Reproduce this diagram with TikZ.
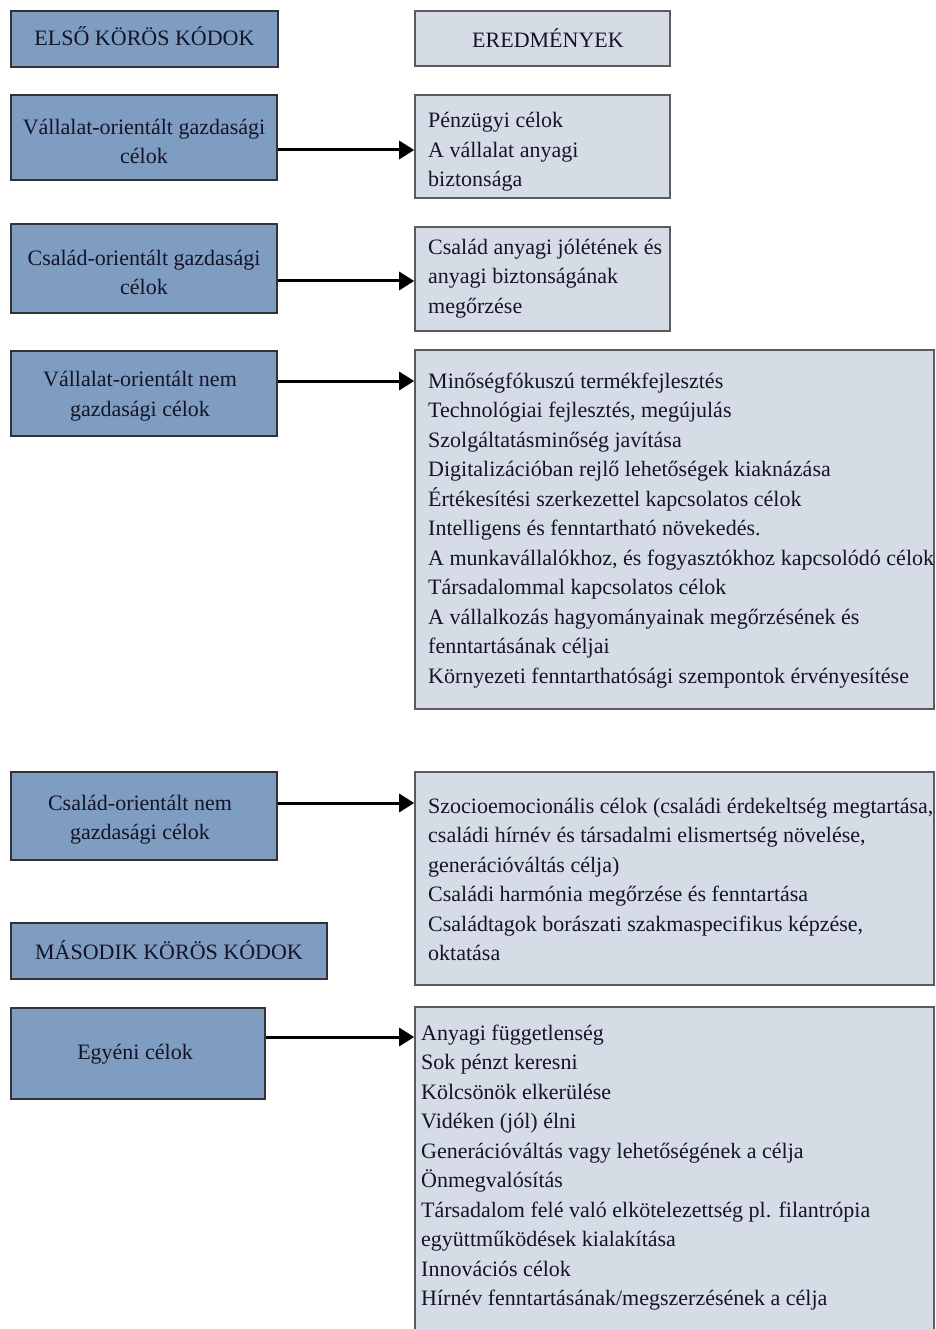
\documentclass[tikz,border=0pt]{standalone}
\usepackage{fontspec}
\setmainfont{Liberation Serif}
\usetikzlibrary{arrows.meta}
\definecolor{lblue}{RGB}{127,157,193}
\definecolor{lgray}{RGB}{214,220,229}
\definecolor{bord}{RGB}{50,50,55}
\definecolor{txt}{RGB}{20,20,40}
\tikzset{
  x=1pt, y=-1pt,
  lbox/.style={draw=bord, line width=1.6pt, fill=lblue, inner sep=0pt},
  ltext/.style={align=center, inner sep=0pt, text=txt, font=\fontsize{22}{29.5}\selectfont},
  rbox/.style={draw=bord!80, line width=1.6pt, fill=lgray, inner sep=0pt},
  rtext/.style={anchor=west, align=left, inner sep=0pt, text=txt, font=\fontsize{22}{29.5}\selectfont},
  arr/.style={line width=3pt, -{Triangle[length=15pt, width=18pt]}, shorten >=0pt},
}
\begin{document}
\begin{tikzpicture}
\useasboundingbox (0,0) rectangle (935,1329);
% left column
\node[lbox, minimum width=267, minimum height=56] (h1) at (144.5,39) {};
\node[ltext] (h1t) at (144.5,36) {ELSŐ KÖRÖS KÓDOK};
\node[lbox, minimum width=266, minimum height=85] (a1) at (144,137.5) {};
\node[ltext] (a1t) at (144,141.5) {Vállalat-orientált gazdasági\\célok};
\node[lbox, minimum width=266, minimum height=89] (a2) at (144,268.5) {};
\node[ltext] (a2t) at (144,272.5) {Család-orientált gazdasági\\célok};
\node[lbox, minimum width=266, minimum height=85] (a3) at (144,393.5) {};
\node[ltext] (a3t) at (140,396) {Vállalat-orientált nem\\gazdasági célok};
\node[lbox, minimum width=266, minimum height=88] (a4) at (144,816) {};
\node[ltext] (a4t) at (140,819.5) {Család-orientált nem\\gazdasági célok};
\node[lbox, minimum width=316, minimum height=56] (h2) at (169,951) {};
\node[ltext] (h2t) at (169,950) {MÁSODIK KÖRÖS KÓDOK};
\node[lbox, minimum width=254, minimum height=91] (a5) at (138,1053.5) {};
\node[ltext] (a5t) at (135,1054) {Egyéni célok};
% right column
\node[rbox, minimum width=255, minimum height=55] (h3) at (542.5,38.5) {};
\node[ltext] (h3t) at (548,38.5) {EREDMÉNYEK};
\node[rbox, minimum width=255, minimum height=103] (r1) at (542.5,146.5) {};
\node[rtext] (t1) at (428,152) {Pénzügyi célok\\A vállalat anyagi\\biztonsága};
\node[rbox, minimum width=255, minimum height=104] (r2) at (542.5,279) {};
\node[rtext] (t2) at (428,278.5) {Család anyagi jólétének és\\anyagi biztonságának\\megőrzése};
\node[rbox, minimum width=519, minimum height=359] (r3) at (674.5,529.5) {};
\node[rtext] (t3) at (428,530.5) {Minőségfókuszú termékfejlesztés\\Technológiai fejlesztés, megújulás\\Szolgáltatásminőség javítása\\Digitalizációban rejlő lehetőségek kiaknázása\\Értékesítési szerkezettel kapcsolatos célok\\Intelligens és fenntartható növekedés.\\A munkavállalókhoz, és fogyasztókhoz kapcsolódó célok\\Társadalommal kapcsolatos célok\\A vállalkozás hagyományainak megőrzésének és\\fenntartásának céljai\\Környezeti fenntarthatósági szempontok érvényesítése};
\node[rbox, minimum width=519, minimum height=213] (r4) at (674.5,878.5) {};
\node[rtext] (t4) at (428,879.5) {Szocioemocionális célok (családi érdekeltség megtartása,\\családi hírnév és társadalmi elismertség növelése,\\generációváltás célja)\\Családi harmónia megőrzése és fenntartása\\Családtagok borászati szakmaspecifikus képzése,\\oktatása};
\node[rbox, minimum width=519, minimum height=340] (r5) at (674.5,1177) {};
\node[rtext] (t5) at (421,1167.5) {Anyagi függetlenség\\Sok pénzt keresni\\Kölcsönök elkerülése\\Vidéken (jól) élni\\Generációváltás vagy lehetőségének a célja\\Önmegvalósítás\\Társadalom felé való elkötelezettség pl. filantrópia\\együttműködések kialakítása\\Innovációs célok\\Hírnév fenntartásának/megszerzésének a célja};
% arrows
\draw[arr] ([yshift=-12.5]a1.east) -- ([yshift=-12.5]a1.east -| r1.west);
\draw[arr] ([yshift=-12.5]a2.east) -- ([yshift=-12.5]a2.east -| r2.west);
\draw[arr] ([yshift=12.5]a3.east) -- ([yshift=12.5]a3.east -| r3.west);
\draw[arr] ([yshift=13]a4.east) -- ([yshift=13]a4.east -| r4.west);
\draw[arr] ([yshift=16.5]a5.east) -- ([yshift=16.5]a5.east -| r5.west);
\end{tikzpicture}
\end{document}
